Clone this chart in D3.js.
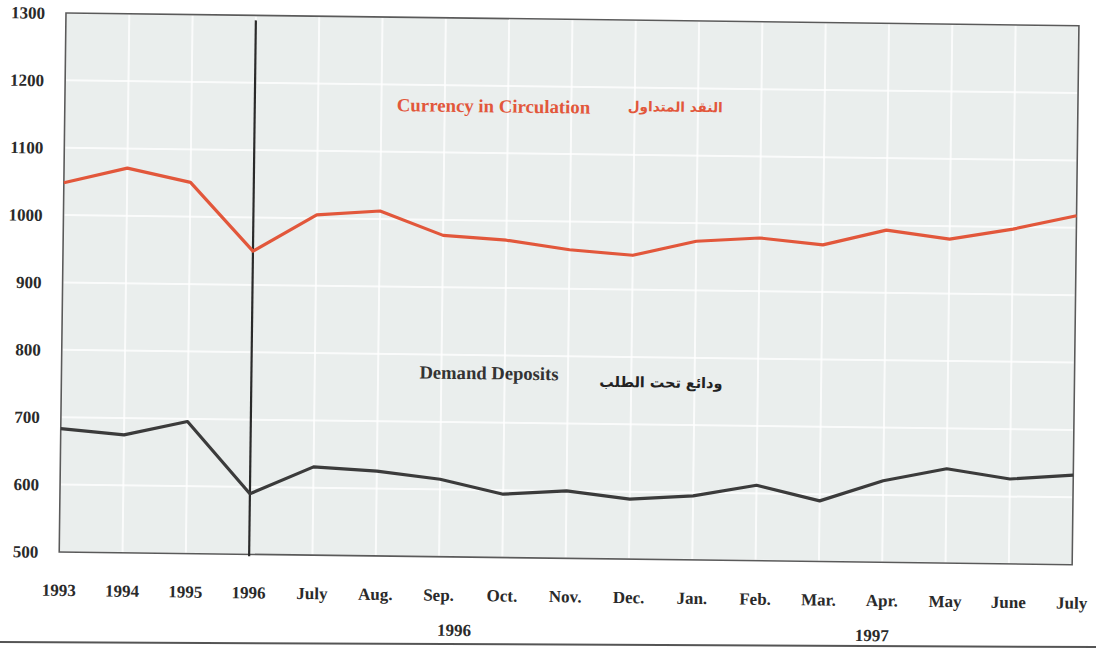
<!DOCTYPE html>
<html>
<head>
<meta charset="utf-8">
<script src="https://cdn.jsdelivr.net/npm/d3@7"></script>
<style>
  html, body { margin: 0; padding: 0; background: #ffffff; }
  svg { display: block; }
</style>
</head>
<body>
<div id="chart"></div>
<script>
// ---- data ----
const categories = ["1993", "1994", "1995", "1996", "July", "Aug.", "Sep.", "Oct.", "Nov.", "Dec.", "Jan.", "Feb.", "Mar.", "Apr.", "May", "June", "July"];
const currencyInCirculation = [1048, 1071, 1051, 950, 1005, 1012, 977, 971, 958, 951, 973, 979, 970, 993, 981, 997, 1018];
const demandDeposits = [683, 675, 696, 590, 631, 626, 615, 594, 600, 589, 595, 612, 590, 621, 640, 626, 633];
const yTickValues = [500, 600, 700, 800, 900, 1000, 1100, 1200, 1300];
const yearLabels = ["1996", "1997"];
const yearLabelPositions = [6.25, 12.85]; // category index positions
const seriesLabelsEn = ["Currency in Circulation", "Demand Deposits"];
const seriesLabelsAr = ["النقد المتداول", "ودائع تحت الطلب"];
const breakIndex = 3; // vertical separator at "1996"

// ---- layout ----
const W = 1096, H = 652;
const plotW = 1013, plotH = 539;
const red = "#e2573b", dark = "#3b3b3b";
const serif = "'Liberation Serif', 'Times New Roman', serif";

const svg = d3.select("#chart").append("svg")
  .attr("width", W).attr("height", H);

const g = svg.append("g").attr("transform", "translate(66,13) rotate(0.72)");

const idx = d3.range(categories.length);
const x = d3.scalePoint().domain(idx).range([0, plotW]);
const step = x.step();
const y = d3.scaleLinear().domain([500, 1300]).range([plotH, 0]);

// background
g.append("rect").attr("width", plotW).attr("height", plotH).attr("fill", "#eaeeed");

// grid
g.append("g").selectAll("line.h").data(yTickValues).join("line")
  .attr("x1", 0).attr("x2", plotW)
  .attr("y1", d => y(d)).attr("y2", d => y(d))
  .attr("stroke", "#ffffff").attr("stroke-width", 2).attr("opacity", 0.8);
g.append("g").selectAll("line.v").data(idx).join("line")
  .attr("x1", d => x(d)).attr("x2", d => x(d))
  .attr("y1", 0).attr("y2", plotH)
  .attr("stroke", "#ffffff").attr("stroke-width", 2).attr("opacity", 0.8);

// border
g.append("rect").attr("width", plotW).attr("height", plotH)
  .attr("fill", "none").attr("stroke", "#5a5a5a").attr("stroke-width", 1.6);

// separator
g.append("line")
  .attr("x1", x(breakIndex)).attr("x2", x(breakIndex))
  .attr("y1", 5).attr("y2", plotH + 2)
  .attr("stroke", "#2a2a2a").attr("stroke-width", 2.2);

// lines
const line = d3.line().x((d, i) => x(i)).y(d => y(d));
g.append("path").datum(currencyInCirculation)
  .attr("d", line).attr("fill", "none").attr("stroke", red)
  .attr("stroke-width", 3.2).attr("stroke-linejoin", "round");
g.append("path").datum(demandDeposits)
  .attr("d", line).attr("fill", "none").attr("stroke", dark)
  .attr("stroke-width", 3.2).attr("stroke-linejoin", "round");

// y axis labels
g.append("g").selectAll("text").data(yTickValues).join("text")
  .attr("x", -21).attr("y", d => y(d) + 6)
  .attr("text-anchor", "end")
  .attr("font-family", serif).attr("font-weight", "bold").attr("font-size", 17)
  .attr("fill", "#2a2a2a").text(d => d);

// x axis labels
g.append("g").selectAll("text").data(idx).join("text")
  .attr("x", d => x(d)).attr("y", plotH + 44)
  .attr("text-anchor", "middle")
  .attr("font-family", serif).attr("font-weight", "bold").attr("font-size", 17)
  .attr("fill", "#2a2a2a").text(d => categories[d]);

// year labels
g.append("g").selectAll("text").data(yearLabels).join("text")
  .attr("x", (d, i) => yearLabelPositions[i] * step)
  .attr("y", plotH + 79)
  .attr("text-anchor", "middle")
  .attr("font-family", serif).attr("font-weight", "bold").attr("font-size", 17)
  .attr("fill", "#2a2a2a").text(d => d);

// series labels
g.append("text").attr("x", 332).attr("y", 94)
  .attr("font-family", serif).attr("font-weight", "bold").attr("font-size", 18.8)
  .attr("fill", red).text(seriesLabelsEn[0]);
g.append("text").attr("x", 563).attr("y", 91)
  .attr("font-family", "'DejaVu Sans', sans-serif").attr("font-weight", "bold").attr("font-size", 13.6)
  .attr("fill", red).text(seriesLabelsAr[0]);
g.append("text").attr("x", 358).attr("y", 361)
  .attr("font-family", serif).attr("font-weight", "bold").attr("font-size", 18.6)
  .attr("fill", "#333").text(seriesLabelsEn[1]);
g.append("text").attr("x", 538).attr("y", 367)
  .attr("font-family", "'DejaVu Sans', sans-serif").attr("font-weight", "bold").attr("font-size", 14.4)
  .attr("fill", "#222").text(seriesLabelsAr[1]);

// bottom rule of the page
svg.append("line").attr("x1", 0).attr("x2", W).attr("y1", 642).attr("y2", 647)
  .attr("stroke", "#555").attr("stroke-width", 2);
</script>
</body>
</html>
